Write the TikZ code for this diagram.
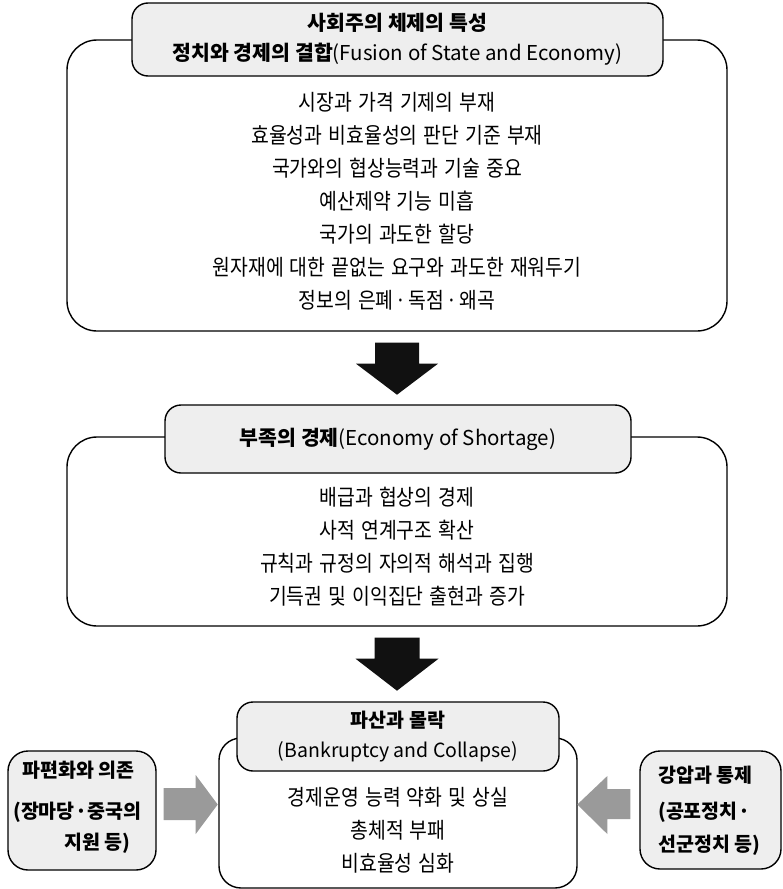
\documentclass[tikz,border=0pt]{standalone}
\usepackage{fontspec}
\usetikzlibrary{calc}
\setmainfont{Noto Sans CJK KR}
\newfontfamily\bodyfont{Noto Sans CJK KR}[FakeStretch=0.88, WordSpace=1.4]
\newcommand{\mdot}[1]{\hspace{#1}·\hspace{#1}}
\definecolor{hdrfill}{HTML}{EEEEEE}
\definecolor{grayarrow}{HTML}{9A9A9A}
\definecolor{blackarrow}{HTML}{111111}
\tikzset{
 bigbox/.style={draw=black, line width=1.4pt, rounded corners=30pt, fill=white, inner sep=0pt},
 hdrbox/.style={draw=black, line width=1.4pt, rounded corners=16pt, fill=hdrfill, inner sep=0pt, align=center, font=\fontsize{20.5}{30}\selectfont},
 sidebox/.style={draw=black, line width=1.4pt, rounded corners=20pt, fill=hdrfill, inner sep=0pt},
 bodytxt/.style={inner sep=0pt, align=center, font=\bodyfont\fontsize{22}{33}\selectfont},
 sidetxt/.style={inner sep=0pt, font=\bfseries\fontsize{19.5}{22}\selectfont},
 blockdown/.style={fill=blackarrow},
 blockside/.style={fill=grayarrow},
}
\begin{document}
\begin{tikzpicture}[x=1pt,y=-1pt]
\useasboundingbox (0,0) rectangle (783,889);

% boxes
\node[bigbox, minimum width=660pt, minimum height=291pt] (box1) at (397,185.5) {};
\node[hdrbox, minimum width=531pt, minimum height=73pt] (hdr1) at (397.5,39.5)
  {{\bfseries 사회주의 체제의 특성}\\{\bfseries 정치와 경제의 결합}(Fusion of State and Economy)};
\node[bodytxt] (t1) at (397,201) {시장과 가격 기제의 부재\\효율성과 비효율성의 판단 기준 부재\\국가와의 협상능력과 기술 중요\\예산제약 기능 미흡\\국가의 과도한 할당\\원자재에 대한 끝없는 요구와 과도한 재워두기\\정보의 은폐\mdot{0.1em}독점\mdot{0.1em}왜곡};

\node[bigbox, minimum width=660pt, minimum height=189pt] (box2) at (397,531.5) {};
\node[hdrbox, minimum width=466pt, minimum height=68pt] (hdr2) at (398,439)
  {{\bfseries 부족의 경제}(Economy of Shortage)};
\node[bodytxt] (t2) at (397,547) {배급과 협상의 경제\\사적 연계구조 확산\\규칙과 규정의 자의적 해석과 집행\\기득권 및 이익집단 출현과 증가};

\node[bigbox, rounded corners=22pt, minimum width=358pt, minimum height=150pt] (box3) at (398,813) {};
\node[hdrbox, minimum width=322pt, minimum height=69pt, font=\fontsize{19.5}{30}\selectfont] (hdr3) at (398,736.5)
  {{\bfseries 파산과 몰락}\\(Bankruptcy and Collapse)};
\node[bodytxt] (t3) at (398,830.5) {경제운영 능력 약화 및 상실\\총체적 부패\\비효율성 심화};

% side boxes
\node[sidebox, minimum width=148pt, minimum height=119pt] (lbox) at (82,810.5) {};
\node[sidetxt] (l1) at (78.5,770) {파편화와 의존};
\node[sidetxt] (l2) at (77.5,812) {(장마당\mdot{0.03em}중국의};
\node[sidetxt] (l3) at (97.5,843) {지원 등)};

\node[sidebox, minimum width=141pt, minimum height=118pt] (rbox) at (710.5,810) {};
\node[sidetxt, anchor=west] (r1) at (658,775) {강압과 통제};
\node[sidetxt, anchor=west] (r2) at (658,812) {(공포정치\hspace{0.05em}·};
\node[sidetxt, anchor=west] (r3) at (658,845) {선군정치 등)};

% black block arrows
\fill[blockdown] ($(box1.south)+(-22,11)$) -- ++(44,0) -- ++(0,21) -- ++(19,0)
  -- ++(-41,31) -- ++(-41,-31) -- ++(19,0) -- cycle;
\fill[blockdown] ($(box2.south)+(-22.5,11)$) -- ++(45,0) -- ++(0,21) -- ++(19,0)
  -- ++(-41.5,32) -- ++(-41.5,-32) -- ++(19,0) -- cycle;

% gray block arrows
\fill[blockside] ($(lbox.east)+(7,-22.5)$) -- ++(32,0) -- ++(0,-13) -- ++(22,29.5)
  -- ++(-22,29.5) -- ++(0,-14) -- ++(-32,0) -- cycle;
\fill[blockside] ($(rbox.west)+(-9,-21)$) -- ++(-23,0) -- ++(0,-13) -- ++(-30,28.5)
  -- ++(30,29.5) -- ++(0,-15) -- ++(23,0) -- cycle;
\end{tikzpicture}
\end{document}
